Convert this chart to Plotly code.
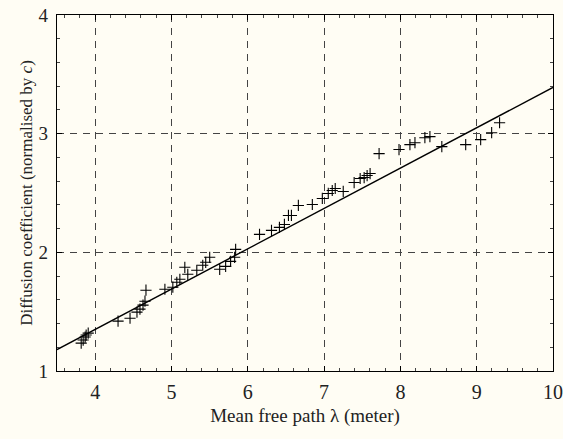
import plotly.graph_objects as go

# Measured points: mean free path (m) vs normalised diffusion coefficient
mfp = [3.817, 3.843, 3.869, 3.882, 3.909, 4.300, 4.457, 4.548, 4.587, 4.627,
       4.653, 4.666, 4.914, 5.018, 5.070, 5.110, 5.175, 5.214, 5.332, 5.410,
       5.449, 5.501, 5.632, 5.710, 5.775, 5.828, 5.841, 6.154, 6.311, 6.415,
       6.480, 6.533, 6.572, 6.663, 6.846, 6.977, 7.055, 7.107, 7.146, 7.251,
       7.394, 7.473, 7.525, 7.564, 7.603, 7.721, 7.982, 8.125, 8.191, 8.321,
       8.387, 8.543, 8.856, 9.052, 9.196, 9.300]
diff = [1.235, 1.261, 1.286, 1.303, 1.319, 1.420, 1.445, 1.496, 1.521, 1.555,
        1.588, 1.681, 1.689, 1.706, 1.748, 1.773, 1.874, 1.815, 1.849, 1.891,
        1.916, 1.958, 1.857, 1.882, 1.924, 1.958, 2.025, 2.151, 2.185, 2.210,
        2.235, 2.311, 2.311, 2.395, 2.403, 2.454, 2.496, 2.521, 2.538, 2.513,
        2.588, 2.622, 2.630, 2.647, 2.664, 2.832, 2.866, 2.908, 2.924, 2.966,
        2.975, 2.891, 2.908, 2.950, 3.008, 3.092]

# Theoretical line endpoints
line_x = [3.5, 10.0]
line_y = [1.18, 3.39]

x_ticks = [4, 5, 6, 7, 8, 9, 10]
y_ticks = [1, 2, 3, 4]

bg = "#fffdf4"
serif = "Liberation Serif, Times New Roman, serif"

fig = go.Figure()
fig.add_trace(go.Scatter(x=line_x, y=line_y, mode="lines",
                         line=dict(color="black", width=1.4),
                         showlegend=False, hoverinfo="skip"))
fig.add_trace(go.Scatter(x=mfp, y=diff, mode="markers",
                         marker=dict(symbol="cross-thin", size=8,
                                     line=dict(color="black", width=1.1)),
                         showlegend=False))

axis_common = dict(
    showline=True, linecolor="black", linewidth=1.3, mirror="ticks",
    ticks="inside", ticklen=5, tickcolor="black",
    showgrid=True, gridcolor="#444444", gridwidth=1, griddash="7px,6px",
    zeroline=False,
    minor=dict(ticks="inside", ticklen=3, dtick=0.2, tickcolor="#444", showgrid=False),
)

fig.update_xaxes(range=[3.5, 10], tickvals=x_ticks, ticktext=[str(v) for v in x_ticks],
                 tickfont=dict(family=serif, size=20, color="#222"),
                 title=dict(text="Mean free path λ (meter)",
                            font=dict(family=serif, size=19, color="#222"), standoff=6),
                 ticklabelstandoff=3,
                 **axis_common)
fig.update_yaxes(range=[1, 4], tickvals=y_ticks, ticktext=[str(v) for v in y_ticks],
                 tickfont=dict(family=serif, size=19, color="#222"),
                 title=dict(text="Diffusion coefficient (normalised by <i>c</i>)",
                            font=dict(family=serif, size=17, color="#222"), standoff=1),
                 ticklabelstandoff=4,
                 **axis_common)

fig.update_layout(width=563, height=439,
                  margin=dict(l=57, r=10, t=15, b=68, autoexpand=False),
                  paper_bgcolor=bg, plot_bgcolor=bg)

fig.write_html("out.html")
